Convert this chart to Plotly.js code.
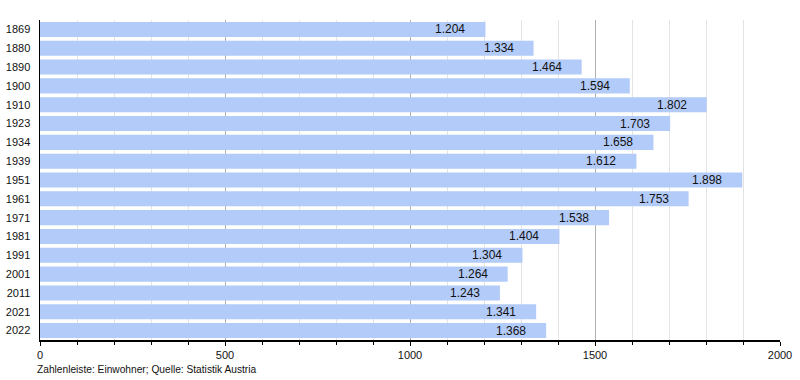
<!DOCTYPE html>
<html>
<head>
<meta charset="utf-8">
<script src="https://cdn.plot.ly/plotly-3.0.1.min.js"></script>
<style>html,body{margin:0;padding:0;background:#fff;}#chart{width:800px;height:380px;}</style>
</head>
<body>
<div id="chart"></div>
<script>
const years = ["1869","1880","1890","1900","1910","1923","1934","1939","1951","1961","1971","1981","1991","2001","2011","2021","2022"];
const population = [1204,1334,1464,1594,1802,1703,1658,1612,1898,1753,1538,1404,1304,1264,1243,1341,1368];
const sourceNote = "Zahlenleiste: Einwohner; Quelle: Statistik Austria";

function fmt(v){ return String(v).replace(/\B(?=(\d{3})+(?!\d))/g, "."); }

const trace = {
  type: "bar",
  orientation: "h",
  y: years,
  x: population,
  marker: {color: "#b3cbf8", line: {width: 0}},
  hoverinfo: "none",
  cliponaxis: false
};

const annotations = years.map((y, i) => ({
  x: population[i], y: i, xref: "x", yref: "y",
  text: fmt(population[i]), showarrow: false,
  xanchor: "right", xshift: -18, yshift: 0,
  font: {family: "Liberation Sans, Arial, sans-serif", size: 12, color: "#111"}
}));
annotations.push({
  xref: "paper", yref: "paper", x: 0, y: -0.068, xanchor: "left", yanchor: "top",
  xshift: -5,
  text: sourceNote, showarrow: false,
  font: {family: "Liberation Sans, Arial, sans-serif", size: 10.2, color: "#111"}
});

const layout = {
  width: 800, height: 380,
  margin: {l: 40, r: 20, t: 20, b: 40},
  paper_bgcolor: "#fff", plot_bgcolor: "#fff",
  bargap: 0.2,
  showlegend: false,
  font: {family: "Liberation Sans, Arial, sans-serif", size: 11, color: "#111"},
  xaxis: {
    range: [0, 2000], dtick: 500, tick0: 0,
    showgrid: true, gridcolor: "#b0b0b0", gridwidth: 1,
    zeroline: false,
    showline: true, linecolor: "#000", linewidth: 1.5,
    ticks: "outside", ticklen: 4, tickcolor: "#000",
    tickfont: {size: 11},
    minor: {dtick: 100, showgrid: true, gridcolor: "#e4e4e4", ticks: "outside", ticklen: 3, tickcolor: "#000"},
    fixedrange: true
  },
  yaxis: {
    type: "category", range: [16.5, -0.5], autorange: false,
    showline: true, linecolor: "#000", linewidth: 1.5,
    ticks: "", ticklabelstandoff: 6,
    tickfont: {size: 11},
    showgrid: false, zeroline: false,
    fixedrange: true
  },
  annotations: annotations
};

Plotly.newPlot("chart", [trace], layout, {displayModeBar: false, staticPlot: true});
</script>
</body>
</html>
